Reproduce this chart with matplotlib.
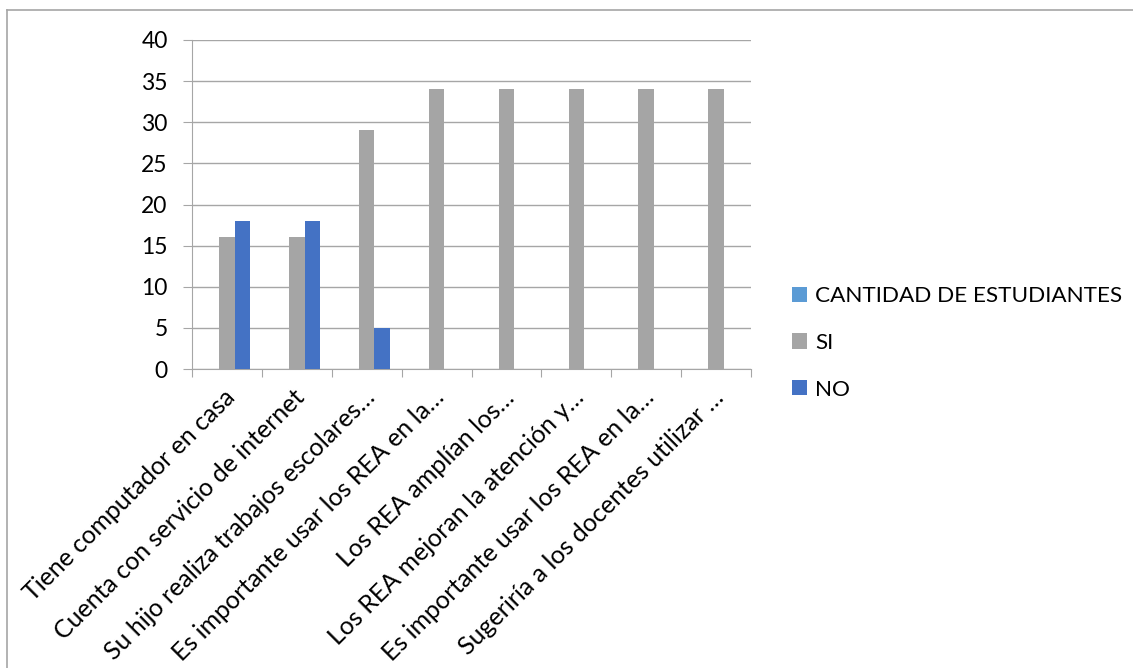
import matplotlib
matplotlib.use("Agg")
import matplotlib.pyplot as plt
import numpy as np
from matplotlib.lines import Line2D
from matplotlib.transforms import ScaledTranslation

categories = [
    "Tiene computador en casa",
    "Cuenta con servicio de internet",
    "Su hijo realiza trabajos escolares…",
    "Es importante usar los REA en la…",
    "Los REA amplían los…",
    "Los REA mejoran la atención y…",
    "Es importante usar los REA en la…",
    "Sugeriría a los docentes utilizar …",
]
series_names = ["CANTIDAD DE ESTUDIANTES", "SI", "NO"]
cantidad = [0, 0, 0, 0, 0, 0, 0, 0]
si = [16, 16, 29, 34, 34, 34, 34, 34]
no = [18, 18, 5, 0, 0, 0, 0, 0]
yticks = [0, 5, 10, 15, 20, 25, 30, 35, 40]

colors = ["#5B9BD5", "#A5A5A5", "#4472C4"]
grid_color = "#A6A6A6"

plt.rcParams["font.family"] = ["Lato", "DejaVu Sans"]

W, H = 1133, 668
fig = plt.figure(figsize=(W / 100, H / 100), dpi=100)
fig.patch.set_facecolor("white")

ax = fig.add_axes([192 / W, 1 - 369 / H, (751 - 192) / W, (369 - 40) / H])

x = np.arange(len(categories))
bw = 0.2214
handles = []
for i, (vals, name) in enumerate(zip([cantidad, si, no], series_names)):
    b = ax.bar(x + (i - 1) * bw, vals, width=bw, color=colors[i], label=name, zorder=3)
    handles.append(b)

ax.set_xlim(-0.5, len(categories) - 0.5)
ax.set_ylim(0, 40)
ax.set_yticks(yticks)
ax.yaxis.grid(True, color=grid_color, linewidth=1.0, zorder=0)
ax.set_axisbelow(True)

for s in ["top", "right"]:
    ax.spines[s].set_visible(False)
ax.spines["left"].set_color(grid_color)
ax.spines["bottom"].set_color(grid_color)

ax.tick_params(axis="y", length=6.5, color=grid_color, labelsize=16.5, pad=11, labelcolor="black")

# category boundaries as major ticks, labels at centers via minor ticks
ax.set_xticks(np.arange(-0.5, len(categories), 1.0))
ax.set_xticklabels([])
ax.tick_params(axis="x", which="major", length=6, color=grid_color)
ax.set_xticks(x, minor=True)
ax.set_xticklabels(categories, minor=True, rotation=45, ha="right", va="top",
                   rotation_mode="anchor", fontsize=18)
ax.tick_params(axis="x", which="minor", length=0, pad=12)
for lab in ax.get_xticklabels(minor=True):
    lab.set_transform(lab.get_transform() + ScaledTranslation(-4 / 100, 0, fig.dpi_scale_trans))

fig.legend(handles=handles, labels=series_names, loc="center left",
           bbox_to_anchor=(772 / W, 1 - 343 / H), frameon=False, fontsize=16.2,
           handlelength=0.67, handleheight=0.67, handletextpad=0.35, labelspacing=1.18)

# chart border (cropped on right and bottom)
fig.add_artist(Line2D([7 / W, 1.0], [1 - 9.5 / H, 1 - 9.5 / H], color="#A6A6A6", linewidth=1.2,
                      transform=fig.transFigure))
fig.add_artist(Line2D([7 / W, 7 / W], [0, 1 - 9.5 / H], color="#A6A6A6", linewidth=1.2,
                      transform=fig.transFigure))

fig.savefig("out.png", dpi=100, facecolor="white")
